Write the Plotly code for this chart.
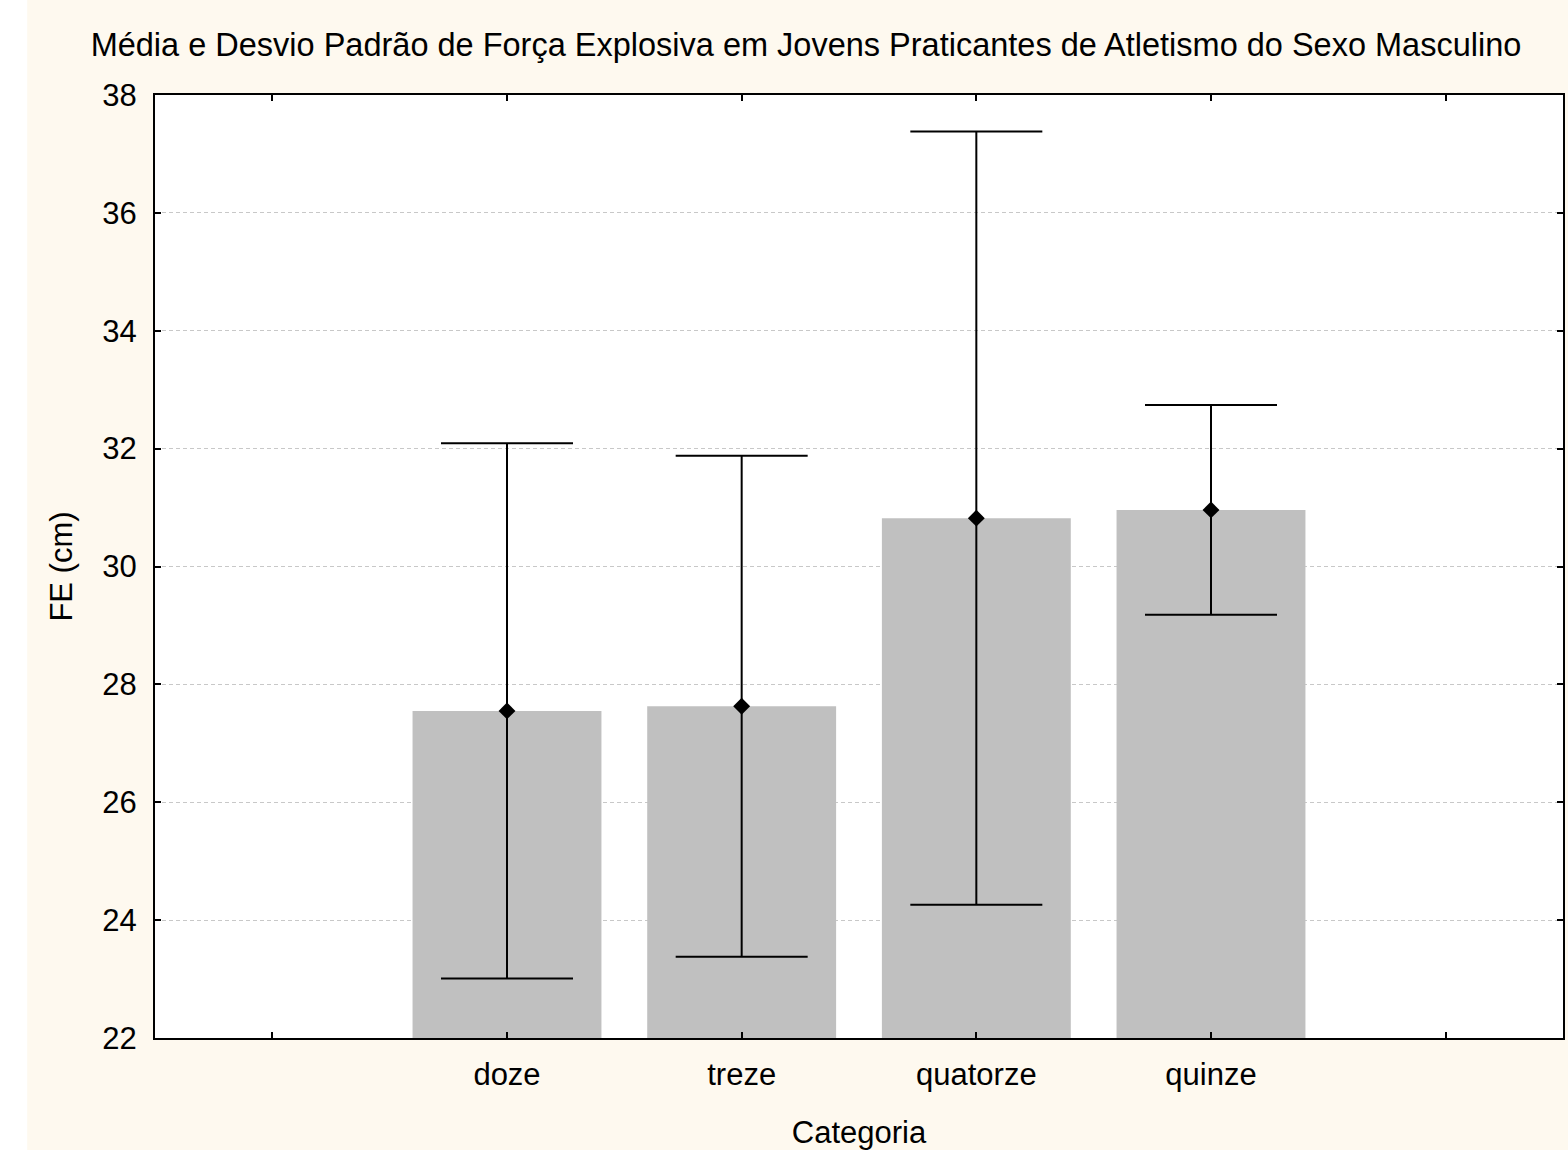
import plotly.graph_objects as go

# ---- data ----
categories = ["doze", "treze", "quatorze", "quinze"]
means = [27.55, 27.63, 30.82, 30.96]
sds = [4.54, 4.25, 6.56, 1.78]
tick_labels = ["", "doze", "treze", "quatorze", "quinze", ""]
y_ticks = [22, 24, 26, 28, 30, 32, 34, 36, 38]

x_pos = [tick_labels.index(c) for c in categories]

FONT = "Liberation Sans, Arial, sans-serif"
CREAM = "#FEF9EF"

fig = go.Figure()

fig.add_trace(go.Bar(
    x=x_pos, y=means, width=0.805,
    marker=dict(color="#C0C0C0", line=dict(width=0)),
    showlegend=False, hoverinfo="skip",
))

fig.add_trace(go.Scatter(
    x=x_pos, y=means, mode="markers",
    marker=dict(symbol="diamond", size=13, color="black"),
    error_y=dict(type="data", array=sds, visible=True, color="black",
                 thickness=2, width=66),
    showlegend=False,
))

fig.update_layout(
    width=1568, height=1150,
    margin=dict(l=155, r=3, t=95, b=112),
    paper_bgcolor=CREAM, plot_bgcolor="white",
    font=dict(family=FONT, size=31, color="black"),
    title=dict(
        text="Média e Desvio Padrão de Força Explosiva em Jovens Praticantes de Atletismo do Sexo Masculino",
        x=806 / 1568, xanchor="center", xref="container",
        y=1 - 45 / 1150, yanchor="middle", yref="container",
        font=dict(family=FONT, size=32.5, color="black"),
    ),
    xaxis=dict(
        range=[-0.5, 5.5],
        tickmode="array", tickvals=list(range(len(tick_labels))), ticktext=tick_labels,
        showline=True, linecolor="black", linewidth=2, mirror="ticks",
        ticks="inside", ticklen=6, tickwidth=2, tickcolor="black",
        showgrid=False, zeroline=False,
        ticklabelstandoff=8,
        title=dict(text="Categoria", standoff=33, font=dict(size=31)),
    ),
    yaxis=dict(
        range=[22, 38],
        tickmode="array", tickvals=y_ticks,
        showline=True, linecolor="black", linewidth=2, mirror="ticks",
        ticks="inside", ticklen=6, tickwidth=2, tickcolor="black",
        showgrid=True, gridcolor="#C8C8C8", gridwidth=1, griddash="4px,3px",
        zeroline=False,
        ticklabelstandoff=10,
        title=dict(text="FE (cm)", standoff=20, font=dict(size=31)),
    ),
    shapes=[dict(
        type="rect", xref="paper", yref="paper",
        x0=-0.3, x1=(27 - 155) / 1410, y0=-0.3, y1=1.3,
        fillcolor="white", line=dict(width=0), layer="below",
    )],
)

fig.write_html("out.html", config={"displayModeBar": False},
               post_script="document.body.style.margin='0';")
